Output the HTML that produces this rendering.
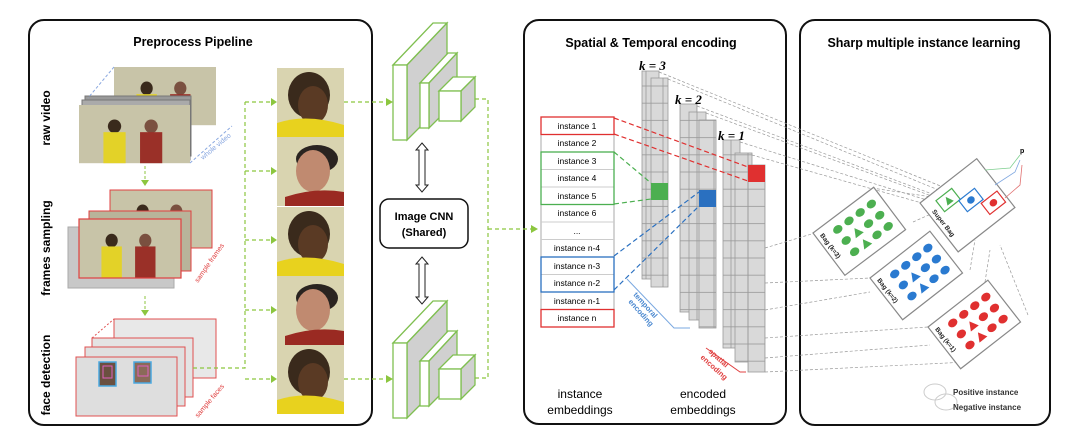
<!DOCTYPE html>
<html><head><meta charset="utf-8"><style>
html,body{margin:0;padding:0;background:#fff;}
svg{display:block;font-family:"Liberation Sans",sans-serif;}
</style></head><body>
<svg width="1080" height="446" viewBox="0 0 1080 446" xmlns="http://www.w3.org/2000/svg">
<defs>
<pattern id="col" width="17" height="17.2" patternUnits="userSpaceOnUse"><rect width="17" height="17.2" fill="#d9d9d9" stroke="#999" stroke-width="0.8"/></pattern>
<g id="woman"><rect width="67" height="69" fill="#d9d4b0"/><ellipse cx="32" cy="27" rx="21" ry="23" fill="#3a2a1c"/><ellipse cx="36" cy="37" rx="15" ry="19" fill="#5a3a24"/><path d="M0 55 Q30 45 67 57 L67 69 L0 69Z" fill="#e8d21e"/></g>
<g id="man"><rect width="67" height="69" fill="#d9d4b0"/><ellipse cx="40" cy="22" rx="21" ry="14" fill="#2a2420"/><ellipse cx="36" cy="34" rx="17" ry="21" fill="#c08a70"/><path d="M8 60 Q38 50 67 55 L67 69 L8 69Z" fill="#9a2a22"/></g>
<g id="scene"><rect width="100" height="60" fill="#c8c4a8"/><ellipse cx="32" cy="22" rx="6" ry="7" fill="#3a2a1c"/><rect x="22" y="28" width="20" height="32" fill="#e3d228"/><ellipse cx="65" cy="22" rx="6" ry="7" fill="#7a5040"/><rect x="55" y="28" width="20" height="32" fill="#9a3028"/></g>
<g id="dots"><ellipse cx="22" cy="12" rx="5" ry="4"/><ellipse cx="36" cy="12" rx="5" ry="4"/><ellipse cx="50" cy="12" rx="5" ry="4"/><ellipse cx="64" cy="12" rx="5" ry="4"/><ellipse cx="22" cy="26" rx="5" ry="4"/><path d="M31 30 L41 30 L36 21Z"/><ellipse cx="50" cy="26" rx="5" ry="4"/><ellipse cx="64" cy="26" rx="5" ry="4"/><ellipse cx="22" cy="40" rx="5" ry="4"/><path d="M31 44 L41 44 L36 35Z"/><ellipse cx="50" cy="40" rx="5" ry="4"/><ellipse cx="64" cy="40" rx="5" ry="4"/></g>
</defs>

<!-- panels -->
<rect x="29" y="20" width="343" height="405" rx="15" fill="none" stroke="#111" stroke-width="2"/>
<rect x="524" y="20" width="262" height="404" rx="15" fill="none" stroke="#111" stroke-width="2"/>
<rect x="800" y="20" width="250" height="405" rx="15" fill="none" stroke="#111" stroke-width="2"/>
<text x="193" y="46" font-size="12.5" font-weight="bold" text-anchor="middle">Preprocess Pipeline</text>
<text x="651" y="47" font-size="12.5" font-weight="bold" text-anchor="middle">Spatial &amp; Temporal encoding</text>
<text x="924" y="47" font-size="12.5" font-weight="bold" text-anchor="middle">Sharp multiple instance learning</text>

<!-- side labels -->
<text transform="translate(50,118) rotate(-90)" font-size="12" font-weight="bold" text-anchor="middle">raw video</text>
<text transform="translate(50,248) rotate(-90)" font-size="12" font-weight="bold" text-anchor="middle">frames sampling</text>
<text transform="translate(50,375) rotate(-90)" font-size="12" font-weight="bold" text-anchor="middle">face detection</text>

<!-- raw video -->
<use href="#scene" transform="translate(114,67) scale(1.02,0.97)"/>
<rect x="85" y="96" width="106" height="60" fill="#999" stroke="#777"/>
<rect x="82" y="100" width="108" height="60" fill="#aaa" stroke="#777"/>
<use href="#scene" transform="translate(79,105) scale(1.11,0.97)"/>
<line x1="190" y1="163" x2="232" y2="126" stroke="#8aa8e0" stroke-dasharray="3,2"/>
<line x1="114" y1="67" x2="88" y2="98" stroke="#8aa8e0" stroke-dasharray="3,2"/>
<text transform="translate(203,160) rotate(-40)" font-size="7" fill="#8aa8e0">whole video</text>
<!-- frames sampling -->
<rect x="68" y="227" width="106" height="61" fill="#c8c8c8" stroke="#aaa"/>
<use href="#scene" transform="translate(110,190) scale(1.02,0.97)"/>
<rect x="110" y="190" width="102" height="58" fill="none" stroke="#e04040"/>
<rect x="89" y="211" width="102" height="60" fill="#b8b49a" stroke="#e04040"/>
<use href="#scene" transform="translate(79,219) scale(1.02,0.98)"/>
<rect x="79" y="219" width="102" height="59" fill="none" stroke="#e04040" stroke-width="1.2"/>
<text transform="translate(198,283) rotate(-55)" font-size="7" fill="#e04040">sample frames</text>
<line x1="145" y1="166" x2="145" y2="181" stroke="#8cc63f" stroke-dasharray="3,2"/><path d="M141 180 L145 186 L149 180Z" fill="#8cc63f"/>
<line x1="145" y1="296" x2="145" y2="311" stroke="#8cc63f" stroke-dasharray="3,2"/><path d="M141 310 L145 316 L149 310Z" fill="#8cc63f"/>
<!-- face detection -->
<rect x="114" y="319" width="102" height="59" fill="#e8e8e8" stroke="#e05050"/>
<rect x="92" y="338" width="101" height="59" fill="#e4e4e4" stroke="#e05050"/>
<rect x="85" y="347" width="100" height="59" fill="#e0e0e0" stroke="#e05050"/>
<rect x="76" y="357" width="101" height="59" fill="#dedede" stroke="#e05050"/>
<line x1="92" y1="338" x2="114" y2="319" stroke="#e05050" stroke-dasharray="2,2"/>
<rect x="99" y="362" width="17" height="24" fill="#6a5040" stroke="#4aa8e0" stroke-width="1.5"/>
<rect x="103" y="366" width="9" height="12" fill="none" stroke="#e060c0"/>
<rect x="134" y="362" width="17" height="21" fill="#8a6a58" stroke="#4aa8e0" stroke-width="1.5"/>
<rect x="138" y="366" width="10" height="10" fill="none" stroke="#e060c0"/>
<text transform="translate(198,418) rotate(-50)" font-size="7" fill="#e04040">sample faces</text>

<!-- photo column -->
<use href="#woman" transform="translate(277,68)"/>
<use href="#man" transform="translate(277,137)"/>
<use href="#woman" transform="translate(277,207)"/>
<use href="#man" transform="translate(277,276)"/>
<use href="#woman" transform="translate(277,345)"/>
<g stroke="#8cc63f" stroke-dasharray="4,3" fill="none" stroke-width="1.2">
<path d="M193 368 L245 368 L245 102"/>
<path d="M245 102 L272 102 M245 171 L272 171 M245 240 L272 240 M245 310 L272 310 M245 379 L272 379"/>
<path d="M344 102 L387 102 M344 379 L387 379"/>
<path d="M468 99 L488 99 L488 378 L468 378 M488 229 L532 229"/>
</g>
<g fill="#8cc63f"><path d="M271 98 L277 102 L271 106Z"/><path d="M271 167 L277 171 L271 175Z"/><path d="M271 236 L277 240 L271 244Z"/><path d="M271 306 L277 310 L271 314Z"/><path d="M271 375 L277 379 L271 383Z"/><path d="M386 98 L393 102 L386 106Z"/><path d="M386 375 L393 379 L386 383Z"/><path d="M531 225 L538 229 L531 233Z"/></g>

<!-- CNN blocks -->
<g id="cnn" stroke="#7fbf50" stroke-width="1.3">
<path d="M393 65 L433 23 L447 23 L407 65Z" fill="#fff"/><path d="M407 65 L447 23 L447 100 L407 140Z" fill="#d0d0d0"/><rect x="393" y="65" width="14" height="75" fill="#fff"/>
<path d="M420 83 L448 53 L457 53 L429 83Z" fill="#fff"/><path d="M429 83 L457 53 L457 100 L429 128Z" fill="#d0d0d0"/><rect x="420" y="83" width="9" height="45" fill="#fff"/>
<path d="M439 91 L453 77 L475 77 L461 91Z" fill="#fff"/><path d="M461 91 L475 77 L475 107 L461 121Z" fill="#d0d0d0"/><rect x="439" y="91" width="22" height="30" fill="#fff"/>
</g>
<use href="#cnn" transform="translate(0,278)"/>
<rect x="380" y="199" width="88" height="49" rx="9" fill="#fff" stroke="#111" stroke-width="1.5"/>
<text x="424" y="220" font-size="11" font-weight="bold" text-anchor="middle">Image CNN</text>
<text x="424" y="236" font-size="11" font-weight="bold" text-anchor="middle">(Shared)</text>
<g fill="#fff" stroke="#222"><path d="M422 143 L428 150 L425 150 L425 185 L428 185 L422 192 L416 185 L419 185 L419 150 L416 150Z"/>
<path d="M422 257 L428 264 L425 264 L425 297 L428 297 L422 304 L416 297 L419 297 L419 264 L416 264Z"/></g>

<!-- instances -->
<g font-size="8.5" text-anchor="middle">
<rect x="541" y="117" width="73" height="210" fill="#fff" stroke="#aaa"/>
<g stroke="#ccc"><line x1="541" y1="134.5" x2="614" y2="134.5"/><line x1="541" y1="169.5" x2="614" y2="169.5"/><line x1="541" y1="187" x2="614" y2="187"/><line x1="541" y1="222" x2="614" y2="222"/><line x1="541" y1="239.5" x2="614" y2="239.5"/><line x1="541" y1="274.5" x2="614" y2="274.5"/><line x1="541" y1="292" x2="614" y2="292"/><line x1="541" y1="152" x2="614" y2="152"/><line x1="541" y1="204.5" x2="614" y2="204.5"/><line x1="541" y1="257" x2="614" y2="257"/></g>
<g fill="none" stroke-width="1.3">
<rect x="541" y="117" width="73" height="17.5" stroke="#e03030"/>
<rect x="541" y="152" width="73" height="52.5" stroke="#4caf50"/>
<rect x="541" y="257" width="73" height="35" stroke="#2a70c0"/>
<rect x="541" y="309.5" width="73" height="17.5" stroke="#e03030"/>
</g>
<text x="577" y="129">instance 1</text><text x="577" y="146">instance 2</text><text x="577" y="164">instance 3</text><text x="577" y="181">instance 4</text><text x="577" y="199">instance 5</text><text x="577" y="216">instance 6</text><text x="577" y="234">...</text><text x="577" y="251">instance n-4</text><text x="577" y="269">instance n-3</text><text x="577" y="286">instance n-2</text><text x="577" y="304">instance n-1</text><text x="577" y="321">instance n</text>
</g>

<!-- columns -->
<g stroke="#999" stroke-width="0.8">
<rect x="642" y="71" width="17" height="208" fill="url(#col)"/><rect x="651" y="78" width="17" height="209" fill="url(#col)"/>
<rect x="680" y="104" width="17" height="208" fill="url(#col)"/><rect x="689" y="112" width="17" height="208" fill="url(#col)"/><rect x="699" y="120" width="17" height="208" fill="url(#col)"/>
<rect x="723" y="140" width="17" height="208" fill="url(#col)"/><rect x="735" y="153" width="17" height="209" fill="url(#col)"/><rect x="748" y="165" width="17" height="207" fill="url(#col)"/>
</g>
<rect x="651" y="183" width="17" height="17" fill="#4caf50"/>
<rect x="699" y="190" width="17" height="17" fill="#2a70c0"/>
<rect x="748" y="165" width="17" height="17" fill="#e03030"/>
<g font-family="Liberation Serif,serif" font-weight="bold" font-style="italic" font-size="13"><text x="639" y="70">k = 3</text><text x="675" y="104">k = 2</text><text x="718" y="140">k = 1</text></g>
<g fill="none" stroke-dasharray="5,3" stroke-width="1.2">
<path d="M614 118 L748 167 M614 134 L748 181" stroke="#e03030"/>
<path d="M614 152 L651 183 M614 204 L651 199" stroke="#4caf50"/>
<path d="M614 256 L699 192 M614 290 L699 206" stroke="#2a70c0"/>
</g>
<path d="M627 279 L674 328 L690 328" fill="none" stroke="#7aa8e0"/>
<text transform="translate(633,295) rotate(48)" font-size="7.5" font-weight="bold" fill="#4a88d0">temporal</text>
<text transform="translate(628,302) rotate(48)" font-size="7.5" font-weight="bold" fill="#4a88d0">encoding</text>
<path d="M706 348 L740 372 L746 372" fill="none" stroke="#e04040"/>
<text transform="translate(708,352) rotate(42)" font-size="7.5" font-weight="bold" fill="#e04040">spatial</text>
<text transform="translate(700,358) rotate(42)" font-size="7.5" font-weight="bold" fill="#e04040">encoding</text>
<g font-size="12" text-anchor="middle"><text x="580" y="398">instance</text><text x="580" y="414">embeddings</text><text x="703" y="398">encoded</text><text x="703" y="414">embeddings</text></g>

<!-- gray dashed connectors -->
<g stroke="#999" stroke-dasharray="3,2" stroke-width="0.7" fill="none">
<path d="M659 72 L975 200 M668 79 L975 205 M697 106 L975 210 M706 113 L975 212 M740 142 L975 215 M752 155 L975 218"/>
<path d="M765 248 L815 233 M765 283 L870 278 M765 310 L870 292 M765 338 L928 327 M765 358 L930 345 M765 372 L967 362"/>
<path d="M872 188 L972 203 M913 222 L940 210 M970 270 L975 240 M1028 315 L1000 245 M985 282 L990 250"/>
</g>

<!-- bags -->
<g stroke="#888" stroke-width="1.2" fill="#fff">
<g transform="translate(813,233) rotate(-37)"><rect width="76" height="53"/>
<use href="#dots" fill="#4caf50" stroke="none"/>
<text transform="translate(4,6) rotate(90)" font-size="6.5" font-weight="bold" fill="#222" stroke="none">Bag (k=3)</text></g>
<g transform="translate(870,278) rotate(-38)"><rect width="76" height="53"/>
<use href="#dots" fill="#2a7ad0" stroke="none"/>
<text transform="translate(4,6) rotate(90)" font-size="6.5" font-weight="bold" fill="#222" stroke="none">Bag (k=2)</text></g>
<g transform="translate(928,327) rotate(-38)"><rect width="76" height="53"/>
<use href="#dots" fill="#e03030" stroke="none"/>
<text transform="translate(4,6) rotate(90)" font-size="6.5" font-weight="bold" fill="#222" stroke="none">Bag (k=1)</text></g>
<g transform="translate(920,203) rotate(-38)"><rect width="72" height="62"/>
<rect x="14" y="8" width="20" height="14" fill="none" stroke="#4caf50"/><path d="M20 19 L28 19 L24 11Z" fill="#4caf50" stroke="none"/>
<rect x="32" y="22" width="20" height="14" fill="none" stroke="#2a7ad0"/><ellipse cx="42" cy="29" rx="4" ry="3.5" fill="#2a7ad0" stroke="none"/>
<rect x="48" y="38" width="20" height="14" fill="none" stroke="#e03030"/><ellipse cx="58" cy="45" rx="4" ry="3.5" fill="#e03030" stroke="none"/>
<text transform="translate(4,14) rotate(90)" font-size="6.5" font-weight="bold" fill="#222" stroke="none">Super Bag</text></g>
</g>
<g stroke-width="0.8" fill="none"><path d="M985 170 L1010 168 L1020 155" stroke="#7fcf90"/><path d="M995 185 L1015 172 L1020 160" stroke="#80a8e0"/><path d="M1005 198 L1020 185 L1022 165" stroke="#e07070"/></g>
<text x="1020" y="153" font-size="7" font-weight="bold">p</text>

<!-- watermark -->
<g><ellipse cx="935" cy="392" rx="11" ry="8" fill="none" stroke="#ccc"/><ellipse cx="946" cy="402" rx="11" ry="8" fill="none" stroke="#ccc"/>
<text x="953" y="395" fill="#333" font-size="8" font-weight="bold">Positive instance</text><text x="953" y="410" fill="#333" font-size="8" font-weight="bold">Negative instance</text></g>
</svg>
</body></html>
